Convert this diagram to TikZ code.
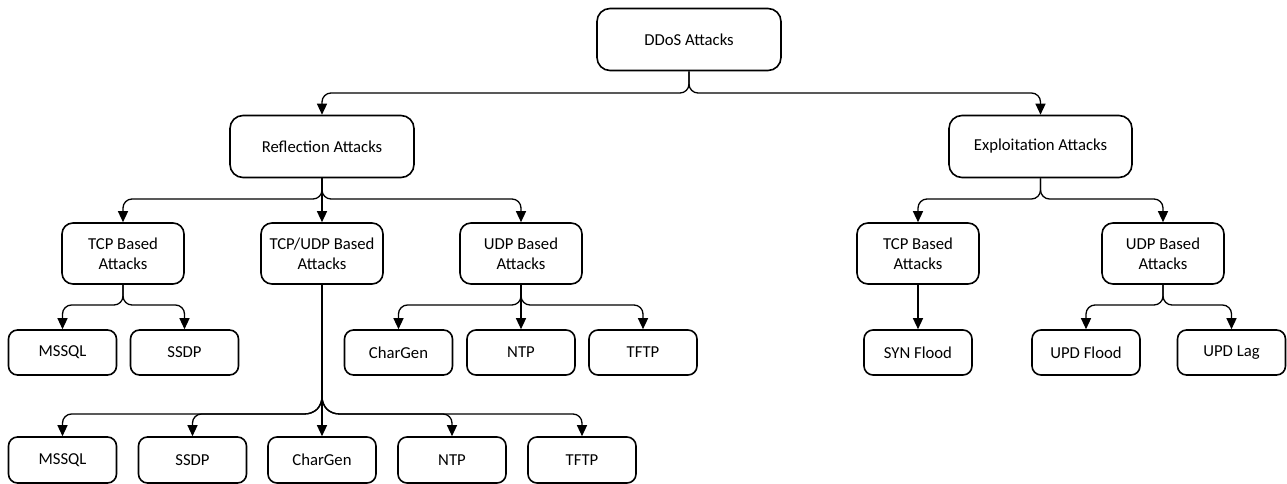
\documentclass[tikz,border=0pt]{standalone}
\usepackage{fontspec}
\setmainfont{Carlito}
\usetikzlibrary{arrows.meta,calc}
\tikzset{
  box/.style={draw, line width=1.6pt, align=center, inner sep=0pt,
    font=\fontsize{16.7}{20}\selectfont},
  topbox/.style={box, minimum width=184pt, minimum height=62pt, rounded corners=13pt},
  midbox/.style={box, minimum width=122pt, minimum height=61pt, rounded corners=11pt},
  leafbox/.style={box, minimum width=108pt, minimum height=45pt, rounded corners=9pt},
  conn/.style={line width=1.3pt, -{Triangle[length=11pt,width=10pt]}, rounded corners=9pt},
}
\begin{document}
\begin{tikzpicture}[x=1pt, y=-1pt]
\useasboundingbox (0,0) rectangle (1287,484);

% bus levels
\coordinate (b1) at (0,93);
\coordinate (b2) at (0,199);
\coordinate (b3) at (0,305);
\coordinate (fk) at (322,387);
\coordinate (jn) at (322,414);

% level 1 and 2
\node[topbox] (ddos) at (689,39.5) {DDoS Attacks};
\node[topbox] (refl) at (322,146.5) {Reflection Attacks};
\node[topbox, minimum width=183pt] (expl) at (1040.5,146.5) {Exploitation Attacks};

% level 3
\node[midbox] (rtcp) at (123,253.5) {TCP Based\\Attacks};
\node[midbox] (rtu)  at (322,253.5) {TCP/UDP Based\\Attacks};
\node[midbox] (rudp) at (521,253.5) {UDP Based\\Attacks};
\node[midbox] (etcp) at (918,253.5) {TCP Based\\Attacks};
\node[midbox] (eudp) at (1163,253.5) {UDP Based\\Attacks};

% level 4
\node[leafbox] (tmssql) at (62.5,352.5) {MSSQL};
\node[leafbox] (tssdp)  at (184.5,352.5) {SSDP};
\node[leafbox] (uchar)  at (398.5,352.5) {CharGen};
\node[leafbox] (untp)   at (521,352.5) {NTP};
\node[leafbox] (utftp)  at (643,352.5) {TFTP};
\node[leafbox] (syn)    at (918,352.5) {SYN Flood};
\node[leafbox] (updf)   at (1086,352.5) {UPD Flood};
\node[leafbox] (updl)   at (1231.5,352.5) {UPD Lag};

% level 5
\node[leafbox, minimum height=46pt] (bmssql) at (62.5,460) {MSSQL};
\node[leafbox, minimum height=46pt] (bssdp)  at (192.5,460) {SSDP};
\node[leafbox, minimum height=46pt] (bchar)  at (322,460) {CharGen};
\node[leafbox, minimum height=46pt] (bntp)   at (452,460) {NTP};
\node[leafbox, minimum height=46pt] (btftp)  at (582,460) {TFTP};

% connectors
\draw[conn] (ddos) -- (ddos |- b1) -| (refl);
\draw[conn] (ddos) -- (ddos |- b1) -| (expl);

\draw[conn] (refl) -- (refl |- b2) -| (rtcp);
\draw[conn] (refl) -- (rtu);
\draw[conn] (refl) -- (refl |- b2) -| (rudp);

\draw[conn] (expl) -- (expl |- b2) -| (etcp);
\draw[conn] (expl) -- (expl |- b2) -| (eudp);

\draw[conn] (rtcp) -- (rtcp |- b3) -| (tmssql);
\draw[conn] (rtcp) -- (rtcp |- b3) -| (tssdp);

\draw[conn] (rudp) -- (rudp |- b3) -| (uchar);
\draw[conn] (rudp) -- (untp);
\draw[conn] (rudp) -- (rudp |- b3) -| (utftp);

\draw[conn] (etcp) -- (syn);
\draw[conn] (eudp) -- (eudp |- b3) -| (updf);
\draw[conn] (eudp) -- (eudp |- b3) -| (updl);

% long stem with wide bends
\draw[conn] (rtu) -- (fk) .. controls ($(fk)+(0,20)$) and ($(jn)+(-7,0)$) .. ($(jn)+(-27,0)$) -| (bmssql);
\draw[conn] (rtu) -- (fk) .. controls ($(fk)+(0,20)$) and ($(jn)+(-7,0)$) .. ($(jn)+(-27,0)$) -| (bssdp);
\draw[conn] (rtu) -- (bchar);
\draw[conn] (rtu) -- (fk) .. controls ($(fk)+(0,20)$) and ($(jn)+(7,0)$) .. ($(jn)+(27,0)$) -| (bntp);
\draw[conn] (rtu) -- (fk) .. controls ($(fk)+(0,20)$) and ($(jn)+(7,0)$) .. ($(jn)+(27,0)$) -| (btftp);
\end{tikzpicture}
\end{document}
